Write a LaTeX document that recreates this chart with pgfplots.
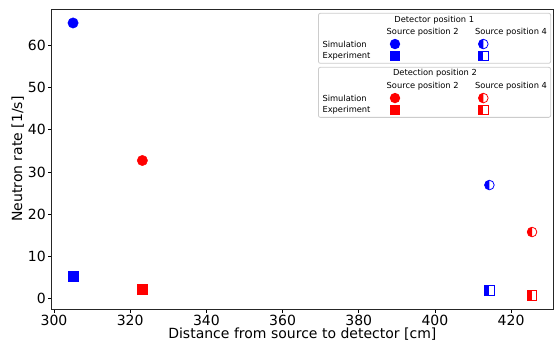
\documentclass[border=0pt]{standalone}
\usepackage{fontspec}
\setmainfont{DejaVu Sans}
\usepackage{pgfplots}
\pgfplotsset{compat=1.18}
\usetikzlibrary{plotmarks}
\pgfdeclareplotmark{lhsquare}{%
  \pgfpathrectangle{\pgfqpoint{-\pgfplotmarksize}{-\pgfplotmarksize}}{\pgfqpoint{\pgfplotmarksize}{2\pgfplotmarksize}}%
  \pgfusepathqfill
  \pgfpathrectangle{\pgfqpoint{-\pgfplotmarksize}{-\pgfplotmarksize}}{\pgfqpoint{2\pgfplotmarksize}{2\pgfplotmarksize}}%
  \pgfusepathqstroke
}
\pgfdeclareplotmark{lhcircle}{%
  \pgfpathmoveto{\pgfqpoint{0pt}{\pgfplotmarksize}}%
  \pgfpatharc{90}{270}{\pgfplotmarksize}%
  \pgfpathclose
  \pgfusepathqfill
  \pgfpathcircle{\pgfpointorigin}{\pgfplotmarksize}%
  \pgfusepathqstroke
}
\newcommand\legcirc[3]{% color, x, y
  \fill[#1] (axis description cs:#2,#3) circle[radius=5.2pt];}
\newcommand\legsq[3]{%
  \fill[#1] (axis description cs:#2,#3) ++(-5pt,-5pt) rectangle ++(10pt,10pt);}
\newcommand\leghcirc[3]{%
  \fill[#1] (axis description cs:#2,#3) ++(0pt,5pt) arc[start angle=90,end angle=270,radius=5pt] -- cycle;
  \draw[#1, line width=0.8pt] (axis description cs:#2,#3) circle[radius=4.8pt];}
\newcommand\leghsq[3]{%
  \fill[#1] (axis description cs:#2,#3) ++(-5pt,-5pt) rectangle ++(5pt,10pt);
  \draw[#1, line width=0.8pt] (axis description cs:#2,#3) ++(-4.6pt,-4.6pt) rectangle ++(9.2pt,9.2pt);}
\begin{document}
\begin{tikzpicture}
\begin{axis}[
  scale only axis, width=501pt, height=300pt,
  xmin=299.4, xmax=431.0, ymin=-2.43, ymax=68.5,
  xtick={300,320,...,420}, ytick={0,10,...,60},
  tick align=outside, tick pos=left, major tick length=3.5pt,
  axis line style={black!85, line width=0.9pt},
  every tick/.style={black, line width=0.8pt},
  /pgf/number format/assume math mode=true,
  ticklabel style={font=\fontsize{14}{16}\selectfont},
  label style={font=\fontsize{14}{16}\selectfont},
  xlabel={Distance from source to detector [cm]},
  ylabel={Neutron rate [1/s]},
  xticklabel style={yshift=1pt},
  yticklabel style={xshift=1pt},
  xlabel style={yshift=5pt},
  ylabel style={yshift=-3pt},
  clip=false,
]
% Detector position 1 (blue)
\addplot[only marks, mark=*, mark size=5.2pt, blue, mark options={fill=blue}] coordinates {(305.0,65.2)};
\addplot[only marks, mark=square*, mark size=5pt, blue, mark options={fill=blue}] coordinates {(305.0,5.4)};
\addplot[only marks, mark=lhcircle, mark size=4.8pt, blue, mark options={fill=blue, draw=blue, line width=0.8pt}] coordinates {(414.3,26.9)};
\addplot[only marks, mark=lhsquare, mark size=4.6pt, blue, mark options={fill=blue, draw=blue, line width=0.8pt}] coordinates {(414.3,2.0)};
% Detection position 2 (red)
\addplot[only marks, mark=*, mark size=5.2pt, red, mark options={fill=red}] coordinates {(323.2,32.7)};
\addplot[only marks, mark=square*, mark size=5pt, red, mark options={fill=red}] coordinates {(323.2,2.2)};
\addplot[only marks, mark=lhcircle, mark size=4.8pt, red, mark options={fill=red, draw=red, line width=0.8pt}] coordinates {(425.5,15.8)};
\addplot[only marks, mark=lhsquare, mark size=4.6pt, red, mark options={fill=red, draw=red, line width=0.8pt}] coordinates {(425.5,0.8)};
% legend boxes
\draw[black!20, fill=white, fill opacity=0.8, rounded corners=2pt, line width=0.8pt]
  (axis description cs:0.532,0.9857) rectangle (axis description cs:0.9954,0.819);
\draw[black!20, fill=white, fill opacity=0.8, rounded corners=2pt, line width=0.8pt]
  (axis description cs:0.532,0.8057) rectangle (axis description cs:0.9954,0.639);
\begin{scope}[every node/.style={font=\fontsize{8.3}{9}\selectfont, inner sep=0pt}]
\node at (axis description cs:0.7632,0.9633) {Detector position 1};
\node at (axis description cs:0.740,0.9223) {Source position 2};
\node at (axis description cs:0.9162,0.9223) {Source position 4};
\node[anchor=west] at (axis description cs:0.5398,0.8833) {Simulation};
\node[anchor=west] at (axis description cs:0.5398,0.8443) {Experiment};
\node at (axis description cs:0.7646,0.7857) {Detection position 2};
\node at (axis description cs:0.740,0.7433) {Source position 2};
\node at (axis description cs:0.9162,0.7433) {Source position 4};
\node[anchor=west] at (axis description cs:0.5398,0.7033) {Simulation};
\node[anchor=west] at (axis description cs:0.5398,0.6643) {Experiment};
\end{scope}
\legcirc{blue}{0.6848}{0.8833}
\legsq{blue}{0.6848}{0.8443}
\leghcirc{blue}{0.861}{0.8833}
\leghsq{blue}{0.861}{0.8443}
\legcirc{red}{0.6848}{0.7033}
\legsq{red}{0.6848}{0.6643}
\leghcirc{red}{0.861}{0.7033}
\leghsq{red}{0.861}{0.6643}
\end{axis}
\path[use as bounding box] ([xshift=-51.7pt,yshift=-33pt]current axis.south west) rectangle ([xshift=5pt,yshift=9pt]current axis.north east);
\end{tikzpicture}
\end{document}
